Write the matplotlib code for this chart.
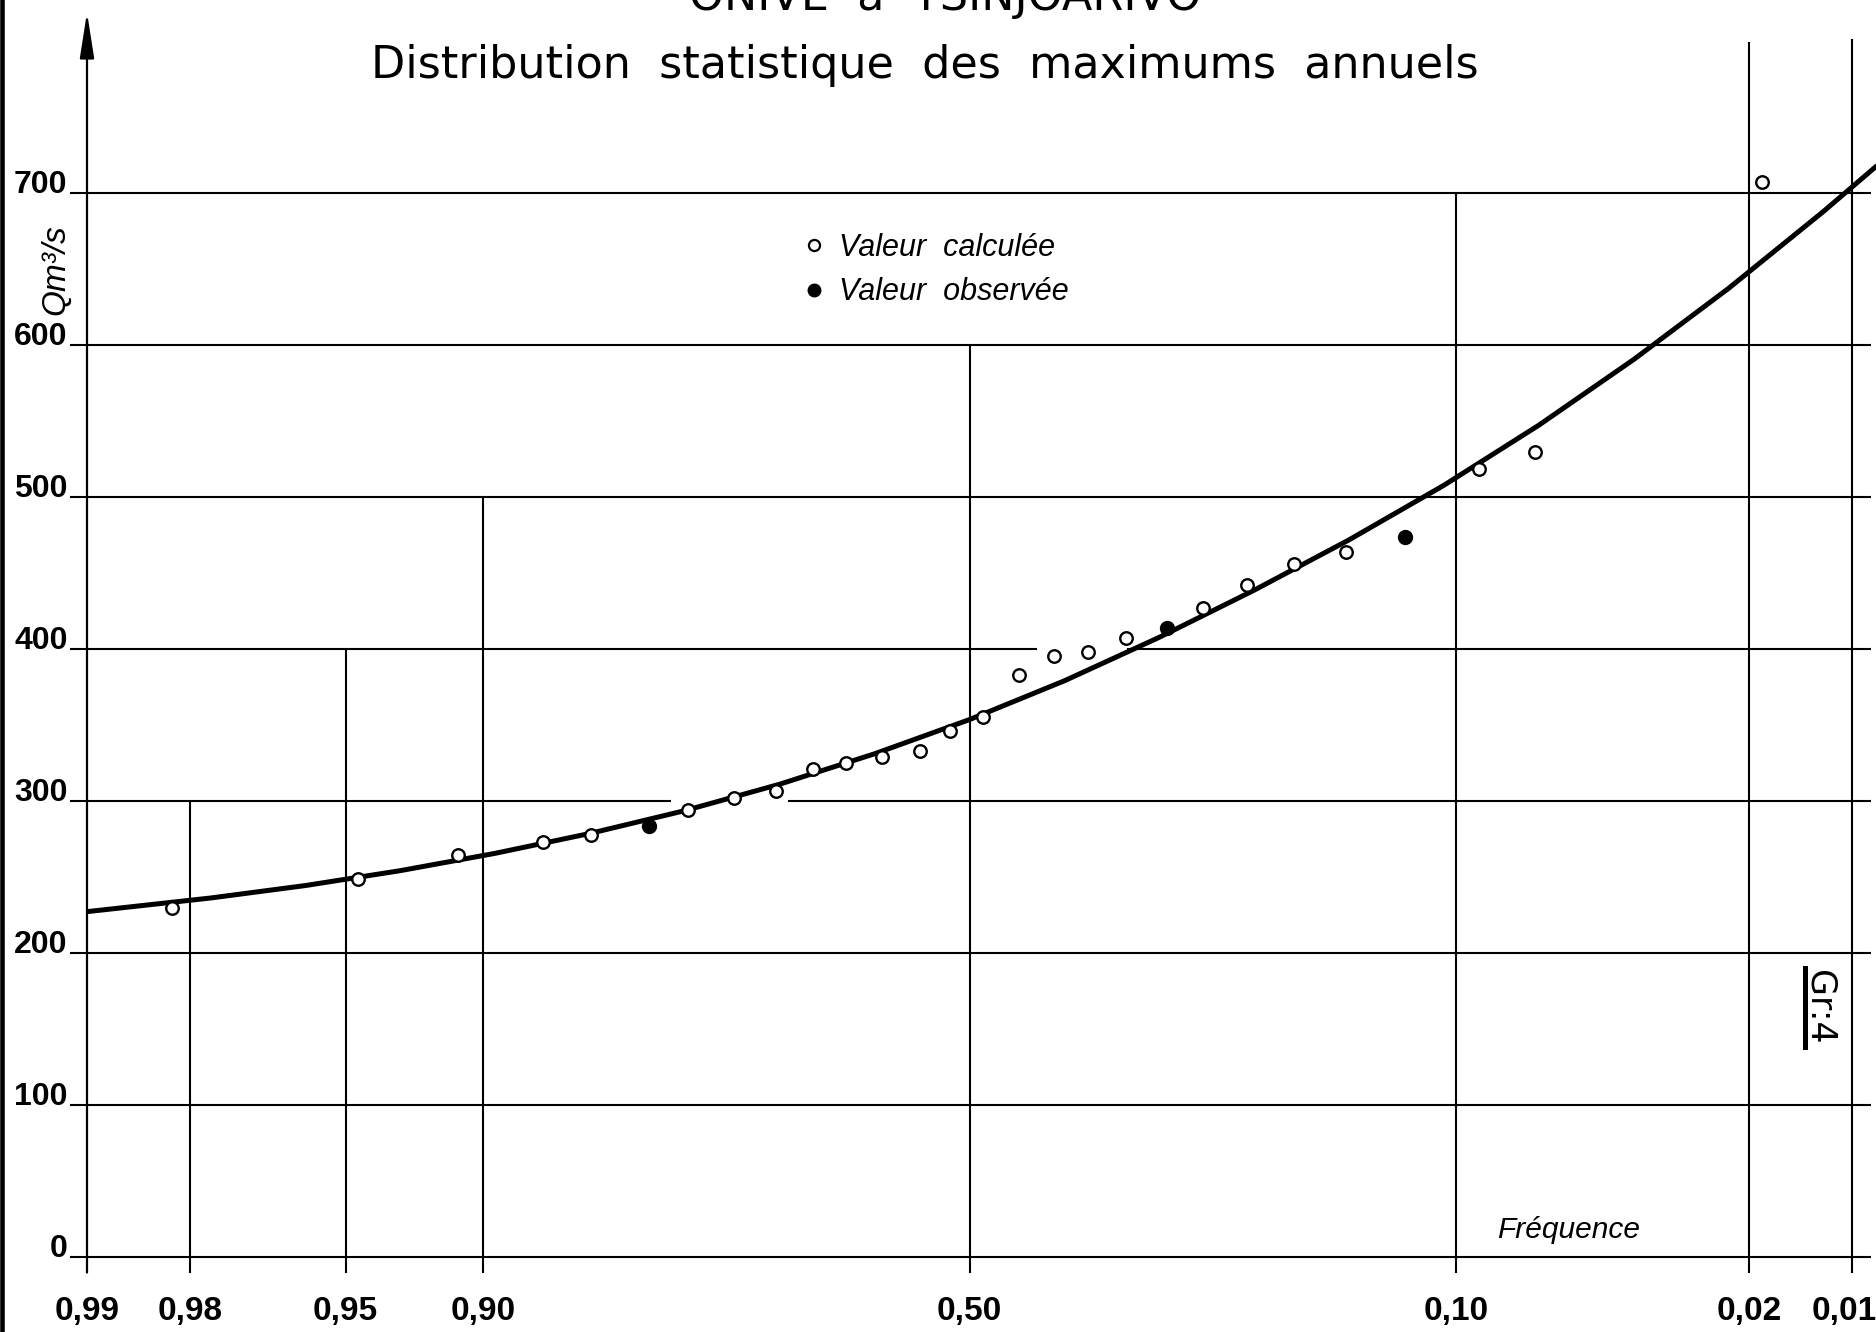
import math
import numpy as np
import matplotlib
matplotlib.use("Agg")
import matplotlib.pyplot as plt
from matplotlib.lines import Line2D

# ─── data ───────────────────────────────────────────────────────────────────
freq_ticks = [0.99, 0.98, 0.95, 0.90, 0.50, 0.10, 0.02, 0.01]
freq_labels = ["0,99", "0,98", "0,95", "0,90", "0,50", "0,10", "0,02", "0,01"]
grid_tops = [819, 300, 400, 500, 600, 700, 799.5, 801.5]   # height of each frequency line
q_ticks = [0, 100, 200, 300, 400, 500, 600, 700]
q_labels = ["0", "100", "200", "300", "400", "500", "600", "700"]

# sample points (frequence, Q m3/s)
pt_freq = [0.9822, 0.9466, 0.9112, 0.8697, 0.8409, 0.8010, 0.7710, 0.7330,
           0.6950, 0.6606, 0.6282, 0.5913, 0.5525, 0.5211, 0.4864, 0.4483,
           0.4125, 0.3775, 0.3405, 0.3015, 0.2696, 0.2324, 0.1963, 0.1604,
           0.1257, 0.0897, 0.0681, 0.0184]
pt_q = [230.0, 249.0, 264.5, 273.0, 278.0, 283.7, 294.3, 302.2,
        307.0, 321.0, 325.4, 329.0, 333.3, 346.4, 355.7, 383.3,
        395.8, 398.5, 407.6, 413.7, 427.4, 442.1, 456.1, 464.0,
        473.9, 518.8, 529.6, 707.5]
pt_observed = [False, False, False, False, False, True, False, False,
               False, False, False, False, False, False, False, False,
               False, False, False, True, False, False, False, False,
               True, False, False, False]

# fitted curve, read along its length
curve_freq = [0.99, 0.97725, 0.95994, 0.93319, 0.89435, 0.84134, 0.77337,
              0.69146, 0.59871, 0.50, 0.40129, 0.30854, 0.22663, 0.15866,
              0.10565, 0.06681, 0.04006, 0.02275, 0.01222, 0.00842]
curve_q = [227.4, 236.4, 244.6, 254.4, 265.8, 278.9, 293.9, 311.3, 331.3,
           353.8, 379.3, 407.9, 438.9, 472.0, 507.9, 547.4, 590.6, 637.4,
           688.0, 717.9]

# horizontal rulings, broken where the points run through them
h_gaps = {300: (0.7847, 0.6841), 400: (0.4296, 0.3394)}

# ─── normal probability scale ───────────────────────────────────────────────
A = [-3.969683028665376e+01, 2.209460984245205e+02, -2.759285104469687e+02,
     1.383577518672690e+02, -3.066479806614716e+01, 2.506628277459239e+00]
B = [-5.447609879822406e+01, 1.615858368580409e+02, -1.556989798598866e+02,
     6.680131188771972e+01, -1.328068155288572e+01, 1.0]
C = [-7.784894002430293e-03, -3.223964580411365e-01, -2.400758277161838e+00,
     -2.549671472223786e+00, 4.374664141464968e+00, 2.938163982698783e+00]
D = [7.784695709041462e-03, 3.224671290700398e-01, 2.445134137142996e+00,
     3.754408661907416e+00, 1.0]
P_LOW = 0.02425


def ndtri(p):
    shape = np.shape(p)
    p = np.clip(np.array(p, dtype=float, ndmin=1).ravel(), 1e-10, 1 - 1e-10)
    out = np.empty_like(p)
    lo = p < P_LOW
    hi = p > 1 - P_LOW
    mid = ~(lo | hi)
    q = p[mid] - 0.5
    r = q * q
    out[mid] = np.polyval(A, r) * q / np.polyval(B, r)
    q = np.sqrt(-2 * np.log(p[lo]))
    out[lo] = np.polyval(C, q) / np.polyval(D, q)
    q = np.sqrt(-2 * np.log(1 - p[hi]))
    out[hi] = -np.polyval(C, q) / np.polyval(D, q)
    return out.reshape(shape)


_erfc = np.vectorize(math.erfc, otypes=[float])


def prob_fwd(p):
    # exceedance frequency -> normal variable
    return -ndtri(p)


def prob_inv(z):
    return 0.5 * _erfc(np.asarray(z, dtype=float) / math.sqrt(2))


# ─── figure ─────────────────────────────────────────────────────────────────
plt.rcParams["ytick.alignment"] = "baseline"
sans = ["Liberation Sans", "DejaVu Sans"]

W, H = 1876, 1332
fig = plt.figure(figsize=(W / 100, H / 100), dpi=100)
ax = fig.add_axes([87 / W, (H - 1257.3) / H, (W - 87) / W, 1257.3 / H])
ax.set_xscale("function", functions=(prob_fwd, prob_inv))
ax.set_xlim(0.99, 0.00845)
if ax.transData.transform((0.99, 0))[0] > ax.transData.transform((0.5, 0))[0]:
    ax.invert_xaxis()
ax.set_ylim(0, 1257.3 / 1.52)
for s in ax.spines.values():
    s.set_visible(False)

x_left, x_right = 0.99113, 0.00875
lw_grid = 1.5
for q in q_ticks:
    if q in h_gaps:
        a, b = h_gaps[q]
        ax.hlines(q, x_left, a, color="k", lw=lw_grid, clip_on=False)
        ax.hlines(q, b, x_right, color="k", lw=lw_grid, clip_on=False)
    else:
        ax.hlines(q, x_left, x_right, color="k", lw=lw_grid, clip_on=False)

ax.vlines(freq_ticks[1:], -10, grid_tops[1:], color="k", lw=lw_grid, clip_on=False)

# Q axis with its arrow
ax.annotate("", xy=(freq_ticks[0], grid_tops[0]), xytext=(freq_ticks[0], -10),
            arrowprops=dict(arrowstyle="-|>,head_length=1.4,head_width=0.22",
                            color="k", lw=1.6, mutation_scale=20,
                            shrinkA=0, shrinkB=0),
            annotation_clip=False)

ax.plot(curve_freq, curve_q, color="k", lw=3.6, solid_capstyle="round", zorder=3)

obs = np.array(pt_observed)
fx, fq = np.array(pt_freq), np.array(pt_q)
ax.plot(fx[~obs], fq[~obs], "o", ms=9, mfc="white", mec="k", mew=1.7,
        zorder=5, clip_on=False)
ax.plot(fx[obs], fq[obs], "o", ms=10, mfc="k", mec="k", zorder=5)

ax.set_xticks(freq_ticks, labels=[])
ax.set_yticks(q_ticks, labels=q_labels)
ax.minorticks_off()
ax.tick_params(axis="x", length=0)
ax.tick_params(axis="y", length=0, pad=14)
for lab in ax.get_yticklabels():
    lab.set_family(sans)
    lab.set_fontweight("bold")
    lab.set_fontsize(23)

# frequency labels under the rulings (last one nudged in from the edge)
label_dx = [0, 0, 0, 0, 0, 0, 0, -6]
for f, lab, dx in zip(freq_ticks, freq_labels, label_dx):
    ax.annotate(lab, xy=(f, 0), xytext=(dx, -39), textcoords="offset points",
                ha="center", va="center", family=sans, fontweight="bold",
                size=24, annotation_clip=False)

handles = [Line2D([], [], ls="none", marker="o", ms=8, mfc="white", mec="k", mew=1.6),
           Line2D([], [], ls="none", marker="o", ms=9, mfc="k", mec="k")]
ax.legend(handles, ["Valeur  calculée", "Valeur  observée"],
          loc="upper left", bbox_to_anchor=(0.4014, 0.8147), frameon=False,
          prop=dict(family=sans, style="italic", size=22),
          handlelength=0.6, handletextpad=0.5, labelspacing=0.47,
          borderpad=0, borderaxespad=0)

# texts around the grid
fig.text(945 / W, 1 - 10 / H, "ONIVE  à  TSINJOARIVO", ha="center",
         va="baseline", size=32, family="DejaVu Sans")
fig.text(925 / W, 1 - 78 / H, "Distribution  statistique  des  maximums  annuels",
         ha="center", va="baseline", size=32, family="DejaVu Sans")
fig.text(56 / W, 1 - 270 / H, "Qm³/s", rotation=90, ha="center", va="center",
         size=24, style="italic", family=sans)
fig.text(1569 / W, 1 - 1230 / H, "Fréquence", ha="center", va="center",
         size=21.5, style="italic", family=sans)
fig.text(1819 / W, 1 - 1007.5 / H, "Gr:4", rotation=-90, ha="center",
         va="center", size=25, family="DejaVu Sans")
fig.add_artist(Line2D([1804.5 / W] * 2, [1 - 968 / H, 1 - 1047 / H],
                      transform=fig.transFigure, lw=3.6, color="k"))
# dark scan edge on the left
fig.add_artist(Line2D([2.2 / W] * 2, [0, 1], transform=fig.transFigure,
                      lw=3.3, color="k"))

fig.savefig("out.png", dpi=100)
